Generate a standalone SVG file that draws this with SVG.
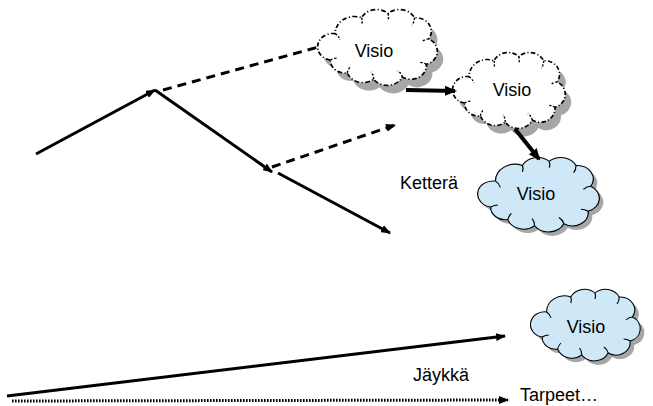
<svg xmlns="http://www.w3.org/2000/svg" width="653" height="406" viewBox="0 0 653 406">
<style>
  .lbl { font-family: "Liberation Sans", Arial, sans-serif; font-size: 18px; fill: #000; }
  .c { text-anchor: middle; }
  .cl { vector-effect: non-scaling-stroke; }
  .outline-white { fill: #fff; stroke: #000; stroke-width: 1.5; stroke-dasharray: 4 2 1 2; }
  .outline-blue { fill: #cfe8f8; stroke: #000; stroke-width: 1; }
  .curl { fill: none; stroke: #000; stroke-width: 1; }
  .curl-d { fill: none; stroke: #000; stroke-width: 1.2; stroke-dasharray: 2 1.5; }
  .shadow { fill: #a6a6a6; stroke: none; }
  .solid { fill: none; stroke: #000; stroke-width: 3; }
  .dash { fill: none; stroke: #000; stroke-width: 3; stroke-dasharray: 9 6; }
  .bold { fill: none; stroke: #000; stroke-width: 4; }
  .dot { fill: none; stroke: #000; stroke-width: 3; stroke-dasharray: 1.6 1.4; }
</style>
<defs>
  <marker id="ah" viewBox="0 0 10 8" refX="9" refY="4" markerWidth="10" markerHeight="8" markerUnits="userSpaceOnUse" orient="auto">
    <path d="M0,0 L10,4 L0,8 Z" fill="#000"/>
  </marker>
  <marker id="ahb" viewBox="0 0 12 10" refX="10" refY="5" markerWidth="12" markerHeight="10" markerUnits="userSpaceOnUse" orient="auto">
    <path d="M0,0 L12,5 L0,10 Z" fill="#000"/>
  </marker>
  <path id="cloud" d="M12,52 A12,12 0 0 1 16,27 A16,16 0 0 1 38,12 A14,14 0 0 1 60,8 A14,14 0 0 1 82,12 A13,13 0 0 1 94,32 A13,13 0 0 1 92,56 A13,13 0 0 1 72,68 A14,14 0 0 1 48,70 A14,14 0 0 1 26,64 A12,12 0 0 1 12,52 Z"/>
  <path id="curls" d="M16,27 Q19,29 20,33 M38,12 Q39,15 38,18 M60,8 Q61,11 60,14 M82,12 Q82,16 80,19 M94,32 Q91,32 88,35 M92,56 Q89,54 86,54 M72,68 Q71,64 68,62 M48,70 Q48,66 46,63 M26,64 Q27,60 29,58 M12,52 Q15,50 18,50"/>
</defs>

<g id="connectors">
  <line class="solid" x1="36" y1="154" x2="155" y2="90" marker-end="url(#ah)"/>
  <line class="dash" x1="163" y1="90" x2="322" y2="46"/>
  <line class="solid" x1="155" y1="90" x2="272" y2="172" marker-end="url(#ah)"/>
  <line class="dash" x1="272" y1="167" x2="395" y2="125" marker-end="url(#ah)"/>
  <line class="solid" x1="278" y1="173" x2="390" y2="233" marker-end="url(#ah)"/>
  <line class="solid" x1="7" y1="396" x2="505" y2="336" stroke-width="3.5" marker-end="url(#ah)"/>
  <line class="dot" x1="12" y1="401" x2="508" y2="400" marker-end="url(#ah)"/>
</g>

<g id="cloud1">
  <use href="#cloud" class="shadow" transform="translate(322,13) scale(1.2,1.06)"/>
  <use href="#cloud" class="outline-white cl" transform="translate(316,5) scale(1.2,1.06)"/>
  <use href="#curls" class="curl-d cl" transform="translate(316,5) scale(1.2,1.06)"/>
  <text class="lbl c" x="374" y="57">Visio</text>
</g>

<g id="cloud2">
  <use href="#cloud" class="shadow" transform="translate(457,56) scale(1.13,1.06)"/>
  <use href="#cloud" class="outline-white cl" transform="translate(451,48) scale(1.13,1.06)"/>
  <use href="#curls" class="curl-d cl" transform="translate(451,48) scale(1.13,1.06)"/>
  <text class="lbl c" x="512" y="96">Visio</text>
</g>

<g id="cloud3">
  <use href="#cloud" class="shadow" transform="translate(480,157) scale(1.22,1.04)"/>
  <use href="#cloud" class="outline-blue cl" transform="translate(476,153) scale(1.22,1.04)"/>
  <use href="#curls" class="curl cl" transform="translate(476,153) scale(1.22,1.04)"/>
  <text class="lbl c" x="536" y="200">Visio</text>
</g>

<g id="cloud4">
  <use href="#cloud" class="shadow" transform="translate(533,289) scale(1.1,1.0)"/>
  <use href="#cloud" class="outline-blue cl" transform="translate(529,285) scale(1.1,1.0)"/>
  <use href="#curls" class="curl cl" transform="translate(529,285) scale(1.1,1.0)"/>
  <text class="lbl c" x="586" y="333">Visio</text>
</g>

<g id="bold-arrows">
  <line class="bold" x1="406" y1="90" x2="455" y2="91" marker-end="url(#ahb)"/>
  <line class="bold" x1="515" y1="129" x2="539" y2="159" marker-end="url(#ahb)"/>
</g>

<g id="labels">
  <text class="lbl" x="400" y="189">Ketterä</text>
  <text class="lbl" x="413" y="381">Jäykkä</text>
  <text class="lbl" x="520" y="401">Tarpeet…</text>
</g>
</svg>
